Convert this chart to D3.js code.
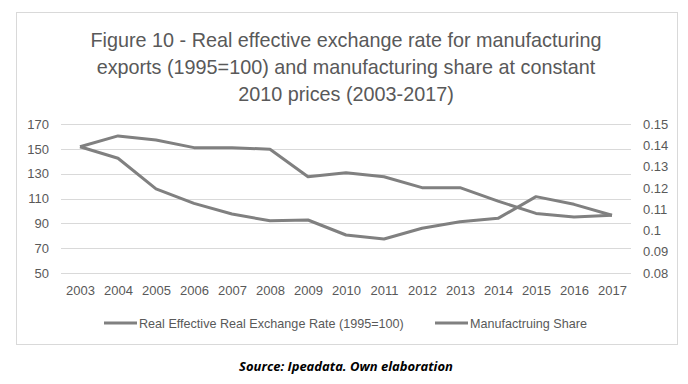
<!DOCTYPE html>
<html>
<head>
<meta charset="utf-8">
<script src="https://cdn.jsdelivr.net/npm/d3@7"></script>
<style>
  body { margin: 0; background: #fff; }
</style>
</head>
<body>
<div id="chart"></div>
<script>
// Chart data
const years = [2003, 2004, 2005, 2006, 2007, 2008, 2009, 2010, 2011, 2012, 2013, 2014, 2015, 2016, 2017];
const reer = [151.7, 142.4, 117.7, 106.1, 97.5, 92.1, 92.7, 80.6, 77.4, 86, 91.3, 94, 111.5, 105.3, 96.5];
const mfgShare = [0.1393, 0.1444, 0.1425, 0.1389, 0.1389, 0.1381, 0.1252, 0.1271, 0.1252, 0.1201, 0.1201, 0.1138, 0.1080, 0.1063, 0.1071];
const leftTicks = [50, 70, 90, 110, 130, 150, 170];
const rightTicks = [0.08, 0.09, 0.1, 0.11, 0.12, 0.13, 0.14, 0.15];
const titleLines = [
    "Figure 10 - Real effective exchange rate for manufacturing",
    "exports (1995=100) and manufacturing share at constant",
    "2010 prices (2003-2017)"
];
const legendLabels = ["Real Effective Real Exchange Rate (1995=100)", "Manufactruing Share"];

const W = 688, H = 384;
const plot = { left: 61, right: 631, top: 124, bottom: 273 };
const font = "'Liberation Sans', sans-serif";
const txt = "#595959";
const lineColor = "#808080";

const svg = d3.select("#chart").append("svg")
    .attr("width", W)
    .attr("height", H);

// chart frame
svg.append("rect")
    .attr("x", 16.5).attr("y", 12.5)
    .attr("width", 661).attr("height", 332)
    .attr("fill", "none")
    .attr("stroke", "#d9d9d9");

// title
svg.append("g").selectAll("text")
    .data(titleLines)
    .enter().append("text")
    .attr("x", 346)
    .attr("y", (d, i) => 47 + i * 27)
    .attr("text-anchor", "middle")
    .attr("font-family", font)
    .attr("font-size", "19.8px")
    .attr("fill", txt)
    .text(d => d);

// scales
const x = d3.scalePoint()
    .domain(years)
    .range([plot.left, plot.right])
    .padding(0.5);

const yL = d3.scaleLinear().domain([50, 170]).range([plot.bottom, plot.top]);
const yR = d3.scaleLinear().domain([0.08, 0.15]).range([plot.bottom, plot.top]);

// gridlines
svg.append("g").selectAll("line")
    .data(leftTicks)
    .enter().append("line")
    .attr("x1", plot.left).attr("x2", plot.right)
    .attr("y1", d => Math.round(yL(d)) + 0.5)
    .attr("y2", d => Math.round(yL(d)) + 0.5)
    .attr("stroke", "#d9d9d9")
    .attr("stroke-width", 1);

// left axis
const leftAxis = svg.append("g")
    .attr("transform", `translate(${plot.left - 12},0)`)
    .call(d3.axisLeft(yL).tickValues(leftTicks).tickSize(0).tickPadding(0));
leftAxis.select(".domain").remove();
leftAxis.selectAll("text")
    .attr("font-family", font).attr("font-size", "13px").attr("fill", txt);

// right axis
const rightAxis = svg.append("g")
    .attr("transform", `translate(${plot.right + 12},0)`)
    .call(d3.axisRight(yR).tickValues(rightTicks).tickSize(0).tickPadding(0)
        .tickFormat(d => d3.format("")(+d.toFixed(2))));
rightAxis.select(".domain").remove();
rightAxis.selectAll("text")
    .attr("font-family", font).attr("font-size", "13px").attr("fill", txt);

// bottom axis
const bottomAxis = svg.append("g")
    .attr("transform", `translate(0,${plot.bottom + 10})`)
    .call(d3.axisBottom(x).tickSize(0).tickPadding(3));
bottomAxis.select(".domain").remove();
bottomAxis.selectAll("text")
    .attr("font-family", font).attr("font-size", "13px").attr("fill", txt);

// lines
const reerLine = d3.line()
    .x((d, i) => x(years[i]))
    .y(d => yL(d));
const shareLine = d3.line()
    .x((d, i) => x(years[i]))
    .y(d => yR(d));

svg.append("path")
    .datum(reer)
    .attr("d", reerLine)
    .attr("fill", "none")
    .attr("stroke", lineColor)
    .attr("stroke-width", 3)
    .attr("stroke-linejoin", "round");

svg.append("path")
    .datum(mfgShare)
    .attr("d", shareLine)
    .attr("fill", "none")
    .attr("stroke", lineColor)
    .attr("stroke-width", 3)
    .attr("stroke-linejoin", "round");

// legend
const legendX = [104, 435];
const legend = svg.append("g").selectAll("g")
    .data(legendLabels)
    .enter().append("g")
    .attr("transform", (d, i) => `translate(${legendX[i]},323)`);
legend.append("line")
    .attr("x1", 0).attr("x2", 33)
    .attr("stroke", lineColor)
    .attr("stroke-width", 3);
legend.append("text")
    .attr("x", 35)
    .attr("y", 4.5)
    .attr("font-family", font)
    .attr("font-size", "12.6px")
    .attr("fill", txt)
    .text(d => d);

// source note
svg.append("text")
    .attr("x", 346)
    .attr("y", 371)
    .attr("text-anchor", "middle")
    .attr("font-family", "'Open Sans', sans-serif")
    .attr("font-size", "13px")
    .attr("font-weight", "bold")
    .attr("font-style", "italic")
    .attr("fill", "#000")
    .text("Source: Ipeadata. Own elaboration");
</script>
</body>
</html>
